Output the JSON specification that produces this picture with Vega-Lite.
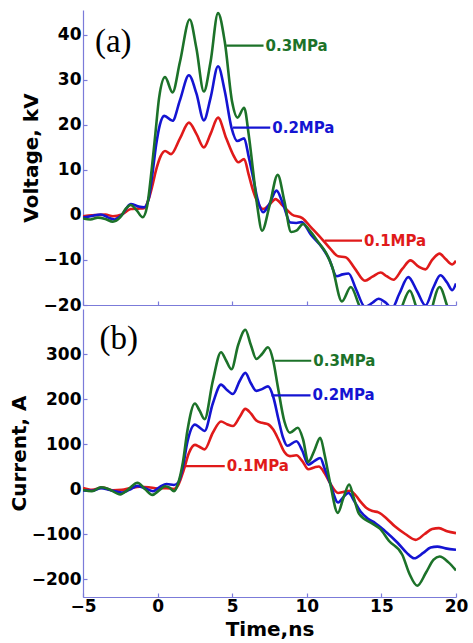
{
  "$schema": "https://vega.github.io/schema/vega-lite/v6.json",
  "background": "white",
  "padding": {"left": 9, "top": 10, "right": 5, "bottom": 0},
  "spacing": 4,
  "bounds": "flush",
  "config": {
    "view": {"stroke": null},
    "axis": {
      "grid": false,
      "domainColor": "#7b7bd9",
      "tickColor": "#7b7bd9",
      "domainWidth": 1.2,
      "tickWidth": 1.2,
      "tickSize": -4,
      "labelPadding": 6,
      "labelFont": "DejaVu Sans",
      "labelFontWeight": "bold",
      "labelFontSize": 17,
      "labelColor": "black",
      "labelFlush": false,
      "titleFont": "DejaVu Sans",
      "titleFontWeight": "bold",
      "titleFontSize": 20,
      "titleColor": "black"
    }
  },
  "datasets": {
    "volt": [
      {"s": "0.1MPa", "t": -5, "v": -0.3}, {"s": "0.1MPa", "t": -4.4, "v": -0.1}, {"s": "0.1MPa", "t": -3.5, "v": 0.1}, {"s": "0.1MPa", "t": -3.0, "v": -0.3}, {"s": "0.1MPa", "t": -2.4, "v": 0.1}, {"s": "0.1MPa", "t": -1.8, "v": 1.3}, {"s": "0.1MPa", "t": -1.3, "v": 1.4}, {"s": "0.1MPa", "t": -0.9, "v": 1.5}, {"s": "0.1MPa", "t": -0.6, "v": 3.5}, {"s": "0.1MPa", "t": -0.35, "v": 6.5}, {"s": "0.1MPa", "t": -0.1, "v": 10}, {"s": "0.1MPa", "t": 0.2, "v": 13}, {"s": "0.1MPa", "t": 0.5, "v": 14.2}, {"s": "0.1MPa", "t": 0.9, "v": 13.5}, {"s": "0.1MPa", "t": 1.5, "v": 17}, {"s": "0.1MPa", "t": 2.1, "v": 20.5}, {"s": "0.1MPa", "t": 2.6, "v": 18}, {"s": "0.1MPa", "t": 3.1, "v": 15}, {"s": "0.1MPa", "t": 3.55, "v": 18}, {"s": "0.1MPa", "t": 4.05, "v": 21.6}, {"s": "0.1MPa", "t": 4.6, "v": 17}, {"s": "0.1MPa", "t": 5.15, "v": 12.8}, {"s": "0.1MPa", "t": 5.4, "v": 11.7}, {"s": "0.1MPa", "t": 5.8, "v": 12.4}, {"s": "0.1MPa", "t": 6.1, "v": 9}, {"s": "0.1MPa", "t": 6.4, "v": 5.4}, {"s": "0.1MPa", "t": 6.7, "v": 2.8}, {"s": "0.1MPa", "t": 7.07, "v": 1.3}, {"s": "0.1MPa", "t": 7.5, "v": 2.3}, {"s": "0.1MPa", "t": 7.9, "v": 3.5}, {"s": "0.1MPa", "t": 8.4, "v": 2}, {"s": "0.1MPa", "t": 9.0, "v": 0.1}, {"s": "0.1MPa", "t": 9.7, "v": -0.7}, {"s": "0.1MPa", "t": 10.3, "v": -2.8}, {"s": "0.1MPa", "t": 11.0, "v": -5.3}, {"s": "0.1MPa", "t": 11.6, "v": -7.6}, {"s": "0.1MPa", "t": 12.1, "v": -9.2}, {"s": "0.1MPa", "t": 12.6, "v": -9.4}, {"s": "0.1MPa", "t": 13.2, "v": -11.8}, {"s": "0.1MPa", "t": 13.9, "v": -14.6}, {"s": "0.1MPa", "t": 14.4, "v": -13.7}, {"s": "0.1MPa", "t": 14.95, "v": -12.8}, {"s": "0.1MPa", "t": 15.35, "v": -13.6}, {"s": "0.1MPa", "t": 15.8, "v": -14.4}, {"s": "0.1MPa", "t": 16.4, "v": -12}, {"s": "0.1MPa", "t": 16.95, "v": -10.1}, {"s": "0.1MPa", "t": 17.5, "v": -11.5}, {"s": "0.1MPa", "t": 17.95, "v": -12.1}, {"s": "0.1MPa", "t": 18.4, "v": -10}, {"s": "0.1MPa", "t": 18.9, "v": -8.6}, {"s": "0.1MPa", "t": 19.3, "v": -9.8}, {"s": "0.1MPa", "t": 19.75, "v": -11}, {"s": "0.1MPa", "t": 20, "v": -10.2},
      {"s": "0.2MPa", "t": -5, "v": -0.6}, {"s": "0.2MPa", "t": -4.5, "v": -0.3}, {"s": "0.2MPa", "t": -3.8, "v": 0.1}, {"s": "0.2MPa", "t": -3.3, "v": -0.6}, {"s": "0.2MPa", "t": -2.9, "v": -1.0}, {"s": "0.2MPa", "t": -2.4, "v": 0}, {"s": "0.2MPa", "t": -1.8, "v": 2.4}, {"s": "0.2MPa", "t": -1.3, "v": 1.9}, {"s": "0.2MPa", "t": -0.9, "v": 1.7}, {"s": "0.2MPa", "t": -0.6, "v": 3.5}, {"s": "0.2MPa", "t": -0.35, "v": 9}, {"s": "0.2MPa", "t": -0.1, "v": 15.5}, {"s": "0.2MPa", "t": 0.15, "v": 20}, {"s": "0.2MPa", "t": 0.45, "v": 22}, {"s": "0.2MPa", "t": 1.0, "v": 20.9}, {"s": "0.2MPa", "t": 1.5, "v": 25.5}, {"s": "0.2MPa", "t": 2.1, "v": 31}, {"s": "0.2MPa", "t": 2.6, "v": 27}, {"s": "0.2MPa", "t": 3.1, "v": 21}, {"s": "0.2MPa", "t": 3.55, "v": 26}, {"s": "0.2MPa", "t": 4.05, "v": 33}, {"s": "0.2MPa", "t": 4.5, "v": 27.5}, {"s": "0.2MPa", "t": 4.95, "v": 19.4}, {"s": "0.2MPa", "t": 5.35, "v": 16.4}, {"s": "0.2MPa", "t": 5.8, "v": 17}, {"s": "0.2MPa", "t": 6.1, "v": 13}, {"s": "0.2MPa", "t": 6.4, "v": 8.3}, {"s": "0.2MPa", "t": 6.7, "v": 3.5}, {"s": "0.2MPa", "t": 7.07, "v": 0.6}, {"s": "0.2MPa", "t": 7.5, "v": 2.5}, {"s": "0.2MPa", "t": 7.97, "v": 5.4}, {"s": "0.2MPa", "t": 8.4, "v": 2.5}, {"s": "0.2MPa", "t": 8.9, "v": -1.7}, {"s": "0.2MPa", "t": 9.3, "v": -1.8}, {"s": "0.2MPa", "t": 9.65, "v": -1.6}, {"s": "0.2MPa", "t": 10.3, "v": -4.5}, {"s": "0.2MPa", "t": 11.0, "v": -7.1}, {"s": "0.2MPa", "t": 11.5, "v": -9.8}, {"s": "0.2MPa", "t": 12.0, "v": -13.6}, {"s": "0.2MPa", "t": 12.4, "v": -13.2}, {"s": "0.2MPa", "t": 12.8, "v": -13}, {"s": "0.2MPa", "t": 13.3, "v": -16.5}, {"s": "0.2MPa", "t": 13.9, "v": -20.4}, {"s": "0.2MPa", "t": 14.4, "v": -19.5}, {"s": "0.2MPa", "t": 14.8, "v": -18.6}, {"s": "0.2MPa", "t": 15.3, "v": -19.5}, {"s": "0.2MPa", "t": 15.7, "v": -20.8}, {"s": "0.2MPa", "t": 16.2, "v": -17.5}, {"s": "0.2MPa", "t": 16.8, "v": -13.8}, {"s": "0.2MPa", "t": 17.4, "v": -17}, {"s": "0.2MPa", "t": 17.95, "v": -20.1}, {"s": "0.2MPa", "t": 18.5, "v": -16}, {"s": "0.2MPa", "t": 18.95, "v": -13.4}, {"s": "0.2MPa", "t": 19.4, "v": -15}, {"s": "0.2MPa", "t": 19.75, "v": -16.7}, {"s": "0.2MPa", "t": 20, "v": -15.2},
      {"s": "0.3MPa", "t": -5, "v": -0.8}, {"s": "0.3MPa", "t": -4.5, "v": -1.0}, {"s": "0.3MPa", "t": -4, "v": -0.6}, {"s": "0.3MPa", "t": -3.5, "v": -0.9}, {"s": "0.3MPa", "t": -3, "v": -1.5}, {"s": "0.3MPa", "t": -2.5, "v": -0.5}, {"s": "0.3MPa", "t": -2.1, "v": 1.5}, {"s": "0.3MPa", "t": -1.8, "v": 2.2}, {"s": "0.3MPa", "t": -1.4, "v": 1.0}, {"s": "0.3MPa", "t": -1.0, "v": -0.5}, {"s": "0.3MPa", "t": -0.7, "v": 2.0}, {"s": "0.3MPa", "t": -0.4, "v": 10}, {"s": "0.3MPa", "t": -0.15, "v": 18}, {"s": "0.3MPa", "t": 0.1, "v": 26}, {"s": "0.3MPa", "t": 0.5, "v": 30.6}, {"s": "0.3MPa", "t": 1.0, "v": 27.2}, {"s": "0.3MPa", "t": 1.5, "v": 34}, {"s": "0.3MPa", "t": 2.15, "v": 43.4}, {"s": "0.3MPa", "t": 2.6, "v": 37}, {"s": "0.3MPa", "t": 3.1, "v": 27.4}, {"s": "0.3MPa", "t": 3.55, "v": 34}, {"s": "0.3MPa", "t": 4.05, "v": 44.8}, {"s": "0.3MPa", "t": 4.5, "v": 38.5}, {"s": "0.3MPa", "t": 5.0, "v": 25}, {"s": "0.3MPa", "t": 5.35, "v": 21.6}, {"s": "0.3MPa", "t": 5.8, "v": 23.8}, {"s": "0.3MPa", "t": 6.1, "v": 18}, {"s": "0.3MPa", "t": 6.4, "v": 9.8}, {"s": "0.3MPa", "t": 6.7, "v": 1.5}, {"s": "0.3MPa", "t": 7.0, "v": -3.5}, {"s": "0.3MPa", "t": 7.5, "v": 2}, {"s": "0.3MPa", "t": 8.05, "v": 8.9}, {"s": "0.3MPa", "t": 8.5, "v": 3}, {"s": "0.3MPa", "t": 8.95, "v": -3.8}, {"s": "0.3MPa", "t": 9.3, "v": -3.5}, {"s": "0.3MPa", "t": 9.75, "v": -2.0}, {"s": "0.3MPa", "t": 10.2, "v": -3.5}, {"s": "0.3MPa", "t": 10.8, "v": -6.2}, {"s": "0.3MPa", "t": 11.3, "v": -8.5}, {"s": "0.3MPa", "t": 11.7, "v": -11.5}, {"s": "0.3MPa", "t": 12.35, "v": -19.2}, {"s": "0.3MPa", "t": 12.95, "v": -16}, {"s": "0.3MPa", "t": 13.5, "v": -20}, {"s": "0.3MPa", "t": 14.2, "v": -25}, {"s": "0.3MPa", "t": 14.8, "v": -22.5}, {"s": "0.3MPa", "t": 15.7, "v": -25}, {"s": "0.3MPa", "t": 16.3, "v": -21}, {"s": "0.3MPa", "t": 16.9, "v": -16.8}, {"s": "0.3MPa", "t": 17.4, "v": -21}, {"s": "0.3MPa", "t": 18.0, "v": -24}, {"s": "0.3MPa", "t": 18.9, "v": -16}, {"s": "0.3MPa", "t": 19.5, "v": -21}, {"s": "0.3MPa", "t": 20, "v": -24}
    ],
    "curr": [
      {"s": "0.1MPa", "t": -5, "i": 2}, {"s": "0.1MPa", "t": -4.4, "i": -2}, {"s": "0.1MPa", "t": -3.7, "i": 3}, {"s": "0.1MPa", "t": -3.0, "i": -3}, {"s": "0.1MPa", "t": -2.4, "i": -2}, {"s": "0.1MPa", "t": -1.8, "i": 2}, {"s": "0.1MPa", "t": -1.2, "i": 5}, {"s": "0.1MPa", "t": -0.6, "i": 4}, {"s": "0.1MPa", "t": 0.0, "i": 1}, {"s": "0.1MPa", "t": 0.6, "i": 2}, {"s": "0.1MPa", "t": 1.1, "i": 0}, {"s": "0.1MPa", "t": 1.4, "i": 10}, {"s": "0.1MPa", "t": 1.75, "i": 42}, {"s": "0.1MPa", "t": 2.1, "i": 80}, {"s": "0.1MPa", "t": 2.5, "i": 98}, {"s": "0.1MPa", "t": 2.8, "i": 94}, {"s": "0.1MPa", "t": 3.15, "i": 88}, {"s": "0.1MPa", "t": 3.7, "i": 125}, {"s": "0.1MPa", "t": 4.25, "i": 150}, {"s": "0.1MPa", "t": 4.65, "i": 144}, {"s": "0.1MPa", "t": 5.05, "i": 140}, {"s": "0.1MPa", "t": 5.5, "i": 160}, {"s": "0.1MPa", "t": 5.88, "i": 178}, {"s": "0.1MPa", "t": 6.25, "i": 168}, {"s": "0.1MPa", "t": 6.62, "i": 152}, {"s": "0.1MPa", "t": 7.0, "i": 147}, {"s": "0.1MPa", "t": 7.4, "i": 144}, {"s": "0.1MPa", "t": 7.75, "i": 132}, {"s": "0.1MPa", "t": 8.1, "i": 110}, {"s": "0.1MPa", "t": 8.5, "i": 82}, {"s": "0.1MPa", "t": 8.87, "i": 73}, {"s": "0.1MPa", "t": 9.3, "i": 75}, {"s": "0.1MPa", "t": 9.7, "i": 62}, {"s": "0.1MPa", "t": 10.1, "i": 44}, {"s": "0.1MPa", "t": 10.5, "i": 48}, {"s": "0.1MPa", "t": 10.8, "i": 50}, {"s": "0.1MPa", "t": 11.2, "i": 35}, {"s": "0.1MPa", "t": 11.56, "i": 13}, {"s": "0.1MPa", "t": 12.1, "i": -9}, {"s": "0.1MPa", "t": 12.5, "i": -6}, {"s": "0.1MPa", "t": 12.9, "i": -4}, {"s": "0.1MPa", "t": 13.3, "i": -15}, {"s": "0.1MPa", "t": 13.6, "i": -28}, {"s": "0.1MPa", "t": 14.0, "i": -42}, {"s": "0.1MPa", "t": 14.4, "i": -49}, {"s": "0.1MPa", "t": 14.8, "i": -52}, {"s": "0.1MPa", "t": 15.4, "i": -67}, {"s": "0.1MPa", "t": 15.9, "i": -83}, {"s": "0.1MPa", "t": 16.6, "i": -100}, {"s": "0.1MPa", "t": 17.3, "i": -113}, {"s": "0.1MPa", "t": 17.9, "i": -100}, {"s": "0.1MPa", "t": 18.4, "i": -89}, {"s": "0.1MPa", "t": 18.86, "i": -87}, {"s": "0.1MPa", "t": 19.4, "i": -94}, {"s": "0.1MPa", "t": 20, "i": -98},
      {"s": "0.2MPa", "t": -5, "i": -3}, {"s": "0.2MPa", "t": -4.4, "i": -4}, {"s": "0.2MPa", "t": -3.8, "i": 2}, {"s": "0.2MPa", "t": -3.2, "i": -2}, {"s": "0.2MPa", "t": -2.4, "i": -8}, {"s": "0.2MPa", "t": -1.9, "i": -2}, {"s": "0.2MPa", "t": -1.35, "i": 7}, {"s": "0.2MPa", "t": -0.8, "i": 1}, {"s": "0.2MPa", "t": -0.3, "i": -5}, {"s": "0.2MPa", "t": 0.2, "i": 6}, {"s": "0.2MPa", "t": 0.6, "i": 11}, {"s": "0.2MPa", "t": 1.1, "i": 9}, {"s": "0.2MPa", "t": 1.4, "i": 15}, {"s": "0.2MPa", "t": 1.7, "i": 50}, {"s": "0.2MPa", "t": 2.0, "i": 105}, {"s": "0.2MPa", "t": 2.5, "i": 143}, {"s": "0.2MPa", "t": 2.8, "i": 137}, {"s": "0.2MPa", "t": 3.15, "i": 129}, {"s": "0.2MPa", "t": 3.7, "i": 190}, {"s": "0.2MPa", "t": 4.25, "i": 232}, {"s": "0.2MPa", "t": 4.65, "i": 220}, {"s": "0.2MPa", "t": 5.05, "i": 211}, {"s": "0.2MPa", "t": 5.5, "i": 240}, {"s": "0.2MPa", "t": 5.88, "i": 258}, {"s": "0.2MPa", "t": 6.25, "i": 235}, {"s": "0.2MPa", "t": 6.62, "i": 218}, {"s": "0.2MPa", "t": 7.0, "i": 222}, {"s": "0.2MPa", "t": 7.4, "i": 228}, {"s": "0.2MPa", "t": 7.75, "i": 205}, {"s": "0.2MPa", "t": 8.1, "i": 155}, {"s": "0.2MPa", "t": 8.4, "i": 115}, {"s": "0.2MPa", "t": 8.7, "i": 96}, {"s": "0.2MPa", "t": 9.3, "i": 106}, {"s": "0.2MPa", "t": 9.7, "i": 85}, {"s": "0.2MPa", "t": 10.1, "i": 54}, {"s": "0.2MPa", "t": 10.5, "i": 62}, {"s": "0.2MPa", "t": 10.9, "i": 69}, {"s": "0.2MPa", "t": 11.2, "i": 45}, {"s": "0.2MPa", "t": 11.56, "i": 13}, {"s": "0.2MPa", "t": 12.1, "i": -30}, {"s": "0.2MPa", "t": 12.45, "i": -18}, {"s": "0.2MPa", "t": 12.8, "i": -9}, {"s": "0.2MPa", "t": 13.2, "i": -28}, {"s": "0.2MPa", "t": 13.6, "i": -50}, {"s": "0.2MPa", "t": 14.1, "i": -66}, {"s": "0.2MPa", "t": 14.6, "i": -76}, {"s": "0.2MPa", "t": 15.2, "i": -92}, {"s": "0.2MPa", "t": 16.1, "i": -120}, {"s": "0.2MPa", "t": 16.7, "i": -142}, {"s": "0.2MPa", "t": 17.2, "i": -154}, {"s": "0.2MPa", "t": 17.8, "i": -142}, {"s": "0.2MPa", "t": 18.3, "i": -130}, {"s": "0.2MPa", "t": 18.75, "i": -128}, {"s": "0.2MPa", "t": 19.3, "i": -132}, {"s": "0.2MPa", "t": 20, "i": -135},
      {"s": "0.3MPa", "t": -5, "i": -2}, {"s": "0.3MPa", "t": -4.4, "i": -5}, {"s": "0.3MPa", "t": -3.8, "i": 4}, {"s": "0.3MPa", "t": -3.3, "i": 0}, {"s": "0.3MPa", "t": -2.5, "i": -12}, {"s": "0.3MPa", "t": -2.0, "i": -2}, {"s": "0.3MPa", "t": -1.35, "i": 14}, {"s": "0.3MPa", "t": -0.85, "i": 0}, {"s": "0.3MPa", "t": -0.35, "i": -13}, {"s": "0.3MPa", "t": 0.1, "i": -3}, {"s": "0.3MPa", "t": 0.5, "i": 6}, {"s": "0.3MPa", "t": 0.8, "i": 3}, {"s": "0.3MPa", "t": 1.1, "i": -5}, {"s": "0.3MPa", "t": 1.4, "i": 15}, {"s": "0.3MPa", "t": 1.7, "i": 60}, {"s": "0.3MPa", "t": 2.0, "i": 130}, {"s": "0.3MPa", "t": 2.5, "i": 190}, {"s": "0.3MPa", "t": 2.8, "i": 175}, {"s": "0.3MPa", "t": 3.15, "i": 155}, {"s": "0.3MPa", "t": 3.7, "i": 240}, {"s": "0.3MPa", "t": 4.25, "i": 304}, {"s": "0.3MPa", "t": 4.6, "i": 285}, {"s": "0.3MPa", "t": 4.95, "i": 266}, {"s": "0.3MPa", "t": 5.4, "i": 320}, {"s": "0.3MPa", "t": 5.88, "i": 354}, {"s": "0.3MPa", "t": 6.25, "i": 320}, {"s": "0.3MPa", "t": 6.62, "i": 289}, {"s": "0.3MPa", "t": 7.0, "i": 300}, {"s": "0.3MPa", "t": 7.4, "i": 315}, {"s": "0.3MPa", "t": 7.75, "i": 285}, {"s": "0.3MPa", "t": 8.05, "i": 229}, {"s": "0.3MPa", "t": 8.5, "i": 150}, {"s": "0.3MPa", "t": 8.87, "i": 125}, {"s": "0.3MPa", "t": 9.4, "i": 136}, {"s": "0.3MPa", "t": 9.75, "i": 110}, {"s": "0.3MPa", "t": 10.1, "i": 60}, {"s": "0.3MPa", "t": 10.5, "i": 85}, {"s": "0.3MPa", "t": 10.9, "i": 114}, {"s": "0.3MPa", "t": 11.2, "i": 75}, {"s": "0.3MPa", "t": 11.56, "i": 14}, {"s": "0.3MPa", "t": 12.08, "i": -53}, {"s": "0.3MPa", "t": 12.45, "i": -20}, {"s": "0.3MPa", "t": 12.84, "i": 10}, {"s": "0.3MPa", "t": 13.15, "i": -20}, {"s": "0.3MPa", "t": 13.5, "i": -55}, {"s": "0.3MPa", "t": 14.4, "i": -77}, {"s": "0.3MPa", "t": 14.9, "i": -88}, {"s": "0.3MPa", "t": 15.5, "i": -115}, {"s": "0.3MPa", "t": 16.4, "i": -146}, {"s": "0.3MPa", "t": 16.9, "i": -190}, {"s": "0.3MPa", "t": 17.4, "i": -215}, {"s": "0.3MPa", "t": 18.0, "i": -185}, {"s": "0.3MPa", "t": 18.5, "i": -157}, {"s": "0.3MPa", "t": 18.9, "i": -150}, {"s": "0.3MPa", "t": 19.5, "i": -163}, {"s": "0.3MPa", "t": 20, "i": -181}
    ],
    "labA": [
      {"s": "0.3MPa", "t1": 4.6, "t2": 7.1, "y": 37.6},
      {"s": "0.2MPa", "t1": 5.05, "t2": 7.55, "y": 19.4},
      {"s": "0.1MPa", "t1": 11.2, "t2": 13.7, "y": -5.7}
    ],
    "labB": [
      {"s": "0.3MPa", "t1": 7.86, "t2": 10.3, "y": 285},
      {"s": "0.2MPa", "t1": 7.63, "t2": 10.25, "y": 208},
      {"s": "0.1MPa", "t1": 1.9, "t2": 4.5, "y": 51}
    ]
  },
  "vconcat": [
    {
      "width": 373,
      "height": 295,
      "layer": [
        {
          "data": {"name": "volt"},
          "mark": {"type": "line", "strokeWidth": 2.6, "interpolate": "monotone", "clip": true},
          "encoding": {
            "x": {"field": "t", "type": "quantitative", "scale": {"domain": [-5, 20], "nice": false}, "axis": {"values": [-5, 0, 5, 10, 15, 20], "labels": false, "title": null}},
            "y": {"field": "v", "type": "quantitative", "scale": {"domain": [-20, 45.5], "nice": false, "zero": false}, "axis": {"values": [-20, -10, 0, 10, 20, 30, 40], "title": "Voltage, kV", "titlePadding": 2}},
            "color": {"field": "s", "type": "nominal", "scale": {"domain": ["0.1MPa", "0.2MPa", "0.3MPa"], "range": ["#e01a1a", "#1414d2", "#1c7229"]}, "legend": null}
          }
        },
        {
          "data": {"name": "labA"},
          "mark": {"type": "rule", "strokeWidth": 2.2},
          "encoding": {
            "x": {"field": "t1", "type": "quantitative"},
            "x2": {"field": "t2"},
            "y": {"field": "y", "type": "quantitative"},
            "color": {"field": "s", "type": "nominal", "legend": null}
          }
        },
        {
          "data": {"name": "labA"},
          "mark": {"type": "text", "align": "left", "baseline": "middle", "dx": 2, "font": "DejaVu Sans", "fontWeight": "bold", "fontSize": 15},
          "encoding": {
            "x": {"field": "t2", "type": "quantitative"},
            "y": {"field": "y", "type": "quantitative"},
            "text": {"field": "s"},
            "color": {"field": "s", "type": "nominal", "legend": null}
          }
        },
        {
          "data": {"values": [{"t": -4.2, "y": 38.5, "lab": "(a)"}]},
          "mark": {"type": "text", "align": "left", "baseline": "middle", "font": "Liberation Serif", "fontSize": 33, "color": "black"},
          "encoding": {
            "x": {"field": "t", "type": "quantitative"},
            "y": {"field": "y", "type": "quantitative"},
            "text": {"field": "lab"}
          }
        }
      ]
    },
    {
      "width": 373,
      "height": 288,
      "layer": [
        {
          "data": {"name": "curr"},
          "mark": {"type": "line", "strokeWidth": 2.6, "interpolate": "monotone", "clip": true},
          "encoding": {
            "x": {"field": "t", "type": "quantitative", "scale": {"domain": [-5, 20], "nice": false}, "axis": {"values": [-5, 0, 5, 10, 15, 20], "title": "Time,ns", "labelPadding": 5, "titlePadding": 5}},
            "y": {"field": "i", "type": "quantitative", "scale": {"domain": [-240, 400], "nice": false, "zero": false}, "axis": {"values": [-200, -100, 0, 100, 200, 300], "title": "Current, A", "titlePadding": 2}},
            "color": {"field": "s", "type": "nominal", "scale": {"domain": ["0.1MPa", "0.2MPa", "0.3MPa"], "range": ["#e01a1a", "#1414d2", "#1c7229"]}, "legend": null}
          }
        },
        {
          "data": {"name": "labB"},
          "mark": {"type": "rule", "strokeWidth": 2.2},
          "encoding": {
            "x": {"field": "t1", "type": "quantitative"},
            "x2": {"field": "t2"},
            "y": {"field": "y", "type": "quantitative"},
            "color": {"field": "s", "type": "nominal", "legend": null}
          }
        },
        {
          "data": {"name": "labB"},
          "mark": {"type": "text", "align": "left", "baseline": "middle", "dx": 2, "font": "DejaVu Sans", "fontWeight": "bold", "fontSize": 15},
          "encoding": {
            "x": {"field": "t2", "type": "quantitative"},
            "y": {"field": "y", "type": "quantitative"},
            "text": {"field": "s"},
            "color": {"field": "s", "type": "nominal", "legend": null}
          }
        },
        {
          "data": {"values": [{"t": -3.9, "y": 333, "lab": "(b)"}]},
          "mark": {"type": "text", "align": "left", "baseline": "middle", "font": "Liberation Serif", "fontSize": 33, "color": "black"},
          "encoding": {
            "x": {"field": "t", "type": "quantitative"},
            "y": {"field": "y", "type": "quantitative"},
            "text": {"field": "lab"}
          }
        }
      ]
    }
  ]
}
